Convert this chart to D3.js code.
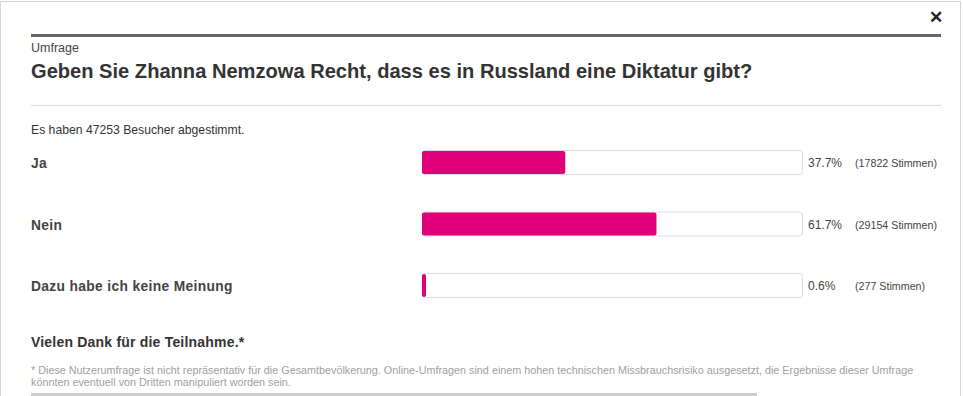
<!DOCTYPE html>
<html><head><meta charset="utf-8">
<script src="https://cdn.jsdelivr.net/npm/d3@7"></script>
<style>
html,body{margin:0;padding:0;background:#fff;overflow:hidden;}
text{font-family:"Liberation Sans",Arial,sans-serif;}
</style></head>
<body>
<svg id="c" width="963" height="396"></svg>
<script>
const categories = ["Ja", "Nein", "Dazu habe ich keine Meinung"];
const percents = [37.7, 61.7, 0.6];
const votes = [17822, 29154, 277];
const totalVoters = 47253;
const kicker = "Umfrage";
const title = "Geben Sie Zhanna Nemzowa Recht, dass es in Russland eine Diktatur gibt?";
const thanks = "Vielen Dank für die Teilnahme.*";
const footnote = ["* Diese Nutzerumfrage ist nicht repräsentativ für die Gesamtbevölkerung. Online-Umfragen sind einem hohen technischen Missbrauchsrisiko ausgesetzt, die Ergebnisse dieser Umfrage",
  "könnten eventuell von Dritten manipuliert worden sein."];

const svg = d3.select("#c");
// outer frame
svg.append("rect").attr("x",0.5).attr("y",1.5).attr("width",960).attr("height",400)
  .attr("fill","#fff").attr("stroke","#d6d6d6");
// close X
svg.append("text").attr("x",936).attr("y",23).attr("text-anchor","middle")
  .attr("font-size",17).attr("font-weight","bold").attr("fill","#222").text("✕");
// dark top rule
svg.append("rect").attr("x",31).attr("y",34).attr("width",910).attr("height",3).attr("fill","#666");
svg.append("text").attr("x",31).attr("y",52).attr("font-size",12.5).attr("fill","#444").text(kicker);
svg.append("text").attr("x",31).attr("y",78).attr("font-size",20.1).attr("font-weight","bold").attr("fill","#333").text(title);
svg.append("rect").attr("x",31).attr("y",105).attr("width",910).attr("height",1).attr("fill","#ddd");
svg.append("text").attr("x",31).attr("y",134).attr("font-size",12.2).attr("fill","#333")
  .text("Es haben " + totalVoters + " Besucher abgestimmt.");

const x = d3.scaleLinear().domain([0,100]).range([422,802]);
const y = d3.scaleBand().domain(categories).range([150,297]).paddingInner(0.61).paddingOuter(0).align(0);
const bh = y.bandwidth();

const rows = svg.selectAll("g.row").data(categories).join("g").attr("class","row");
rows.append("rect").attr("x",x(0)+0.5).attr("y",d=>y(d)+0.5).attr("width",x(100)-x(0)).attr("height",bh)
  .attr("rx",3).attr("fill","#fff").attr("stroke","#dcdcdc");
rows.append("rect").attr("x",x(0)).attr("y",d=>y(d)+1).attr("width",(d,i)=>Math.max(4,x(percents[i])-x(0)))
  .attr("height",bh-1).attr("rx",2).attr("fill","#e2007a");
rows.append("text").attr("x",31).attr("y",d=>y(d)+bh/2+6).attr("font-size",13.8).attr("font-weight","bold")
  .attr("fill","#444").attr("letter-spacing",0.35).text(d=>d);
rows.append("text").attr("x",808).attr("y",d=>y(d)+bh/2+5).attr("font-size",12).attr("fill","#444")
  .text((d,i)=>percents[i].toFixed(1)+"%");
rows.append("text").attr("x",855).attr("y",d=>y(d)+bh/2+5).attr("font-size",10.7).attr("fill","#444")
  .text((d,i)=>"("+votes[i]+" Stimmen)");

svg.append("text").attr("x",31).attr("y",347).attr("font-size",14).attr("font-weight","bold")
  .attr("fill","#333").attr("letter-spacing",0.2).text(thanks);
svg.selectAll("text.fn").data(footnote).join("text").attr("class","fn").attr("x",31).attr("y",(d,i)=>374+i*11.5)
  .attr("font-size",10.8).attr("fill","#a0a0a0").text(d=>d);
svg.append("rect").attr("x",31).attr("y",393).attr("width",726).attr("height",3).attr("fill","#cccccc");
</script>
</body></html>
